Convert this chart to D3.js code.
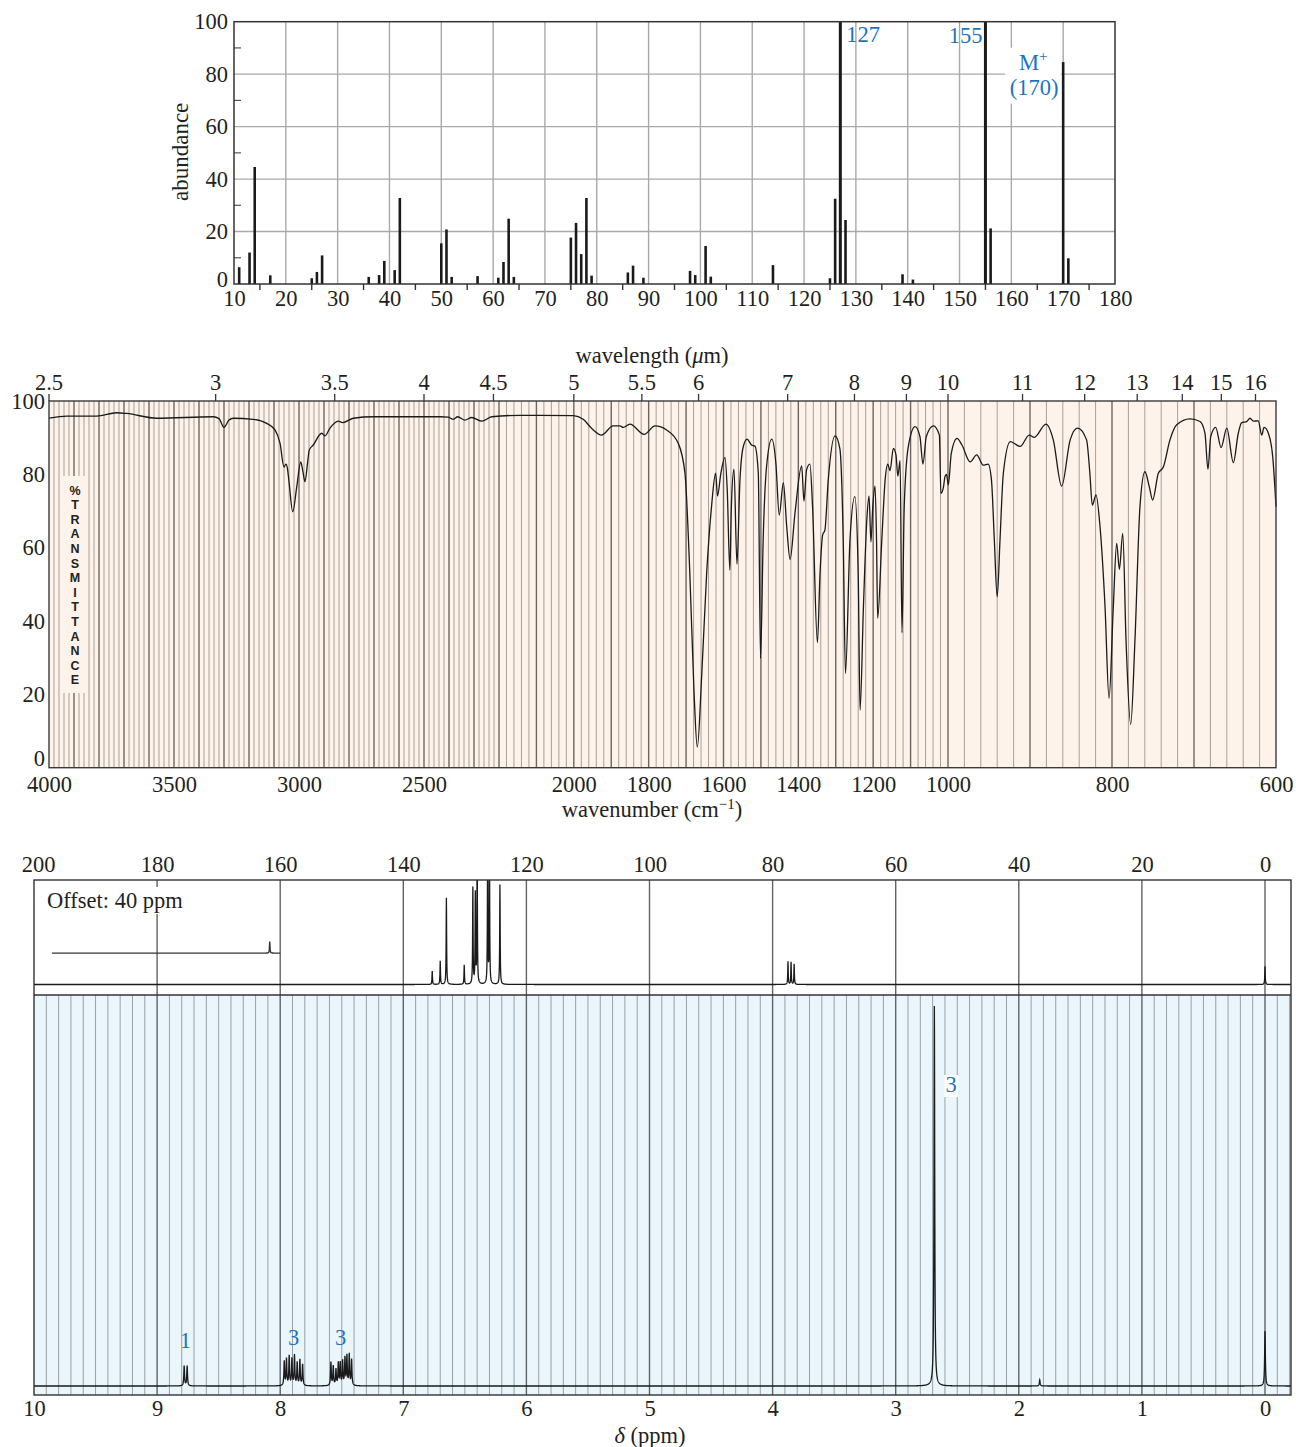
<!DOCTYPE html>
<html><head><meta charset="utf-8">
<script src="https://cdn.jsdelivr.net/npm/d3@7"></script>
<style>body{margin:0;background:#fff}svg{display:block}</style>
</head><body><svg id="c" width="1296" height="1447"></svg>
<script>
// ---------------- DATA ----------------
// Mass spectrum
const msMz = [11,13,14,17,25,26,27,36,38,39,41,42,50,51,52,57,61,62,63,64,75,76,77,78,79,86,87,89,98,99,101,102,114,125,126,127,128,139,141,155,156,170,171];
const msAbundance = [6.4,12,44.6,3.3,2.2,4.6,10.9,2.7,3.4,8.8,5.3,32.8,15.5,20.8,2.7,3,2.4,8.4,24.9,2.7,17.7,23.3,11.4,32.8,3.2,4.4,7,2.4,5,3.4,14.5,2.8,7.2,2.2,32.5,100,24.4,3.7,1.7,100,21.2,84.6,9.8];
const msXTicks = [10,20,30,40,50,60,70,80,90,100,110,120,130,140,150,160,170,180];
const msYTicks = [0,20,40,60,80,100];

// IR spectrum
const irWavenumber = [4000,3929,3809,3729,3689,3569,3343,3320,3300,3280,3263,3183,3129,3096,3076,3060,3052,3046,3040,3025,3009,2993,2985,2976,2966,2959,2943,2909,2896,2876,2843,2825,2783,2703,2436,2403,2383,2365,2336,2309,2269,2229,2144,2001,1975,1952,1926,1895,1877,1868,1850,1812,1783,1752,1721,1703,1690,1679,1670,1658,1645,1632,1621,1616,1607,1596,1590,1583,1579,1572,1564,1556,1547,1537,1525,1516,1507,1501,1494,1485,1471,1460,1451,1440,1431,1422,1409,1391,1385,1378,1369,1362,1349,1342,1335,1329,1320,1302,1289,1280,1274,1262,1249,1240,1235,1226,1217,1211,1206,1201,1195,1191,1188,1177,1168,1161,1155,1146,1139,1134,1128,1123,1117,1106,1088,1075,1067,1058,1039,1023,1019,1012,1008,1004,999.6,996,989,983,973,965,957,951,947,943.5,940,936.6,932.5,924,912,901,894.7,880.5,871.6,861.4,851,842,831,827,824,819.5,814.6,808.5,803.6,798.4,794.3,791,786.9,782.9,777.2,772,765.9,759.8,754.5,750.4,743.5,737.4,729.3,721.1,704.9,692.7,686.6,683,679.6,673.5,667,660,652,646,641.8,635.7,631.7,627.7,621.6,617.4,614.6,609.3,604,600];
const irTransmittance = [95.3,95.9,95.9,96.8,96.6,95.3,95.7,95.2,92.8,94.8,95.3,95.0,93.9,92.1,88.5,82,82.8,81.5,78,69.8,76.6,83.4,81,78,83,86.6,88,91.2,90.5,92.6,94.5,94.1,95.3,95.7,95.7,95.6,95.0,95.7,94.8,95.5,94.5,95.7,96.1,96.0,95.0,92.5,90.7,93.2,93.2,92.8,93.7,90.9,93.2,92.1,88.5,80.3,53,21.2,5.6,25.7,53,71.2,80.3,74.1,80.3,84.6,75.7,53.9,71.2,81.4,55.5,78.5,87.6,89.6,88,87.7,80.3,29.8,62.1,82,89.6,83,68.9,77.7,65.7,56.8,69.4,82.3,72.7,81.2,82.8,71.2,34.1,53,63.5,64.8,78.5,90.5,87,62.1,25.7,62.1,73.9,53,15.7,43.9,67.5,74.1,61.6,71.2,76.8,62.1,40.7,62,78.5,82.8,81,87.1,85.3,79.5,83.7,36.8,71.2,87.6,93,90.3,82.8,90.3,93.2,90.7,74.8,76.6,79.4,80,77.1,85.7,89.8,88,83.4,85.3,82.5,82.8,78.5,62.1,46.6,62,80.3,88.9,87.6,90.7,90.1,93.7,89.4,76.8,89.4,92.6,89.4,80.3,71.6,74.4,65.7,43.9,18.9,43.9,61.2,54.1,63.9,34.8,11.8,34.8,71.2,80.7,76.6,73,80.3,82,89.4,93.5,95.1,94.4,91.2,81.4,90.3,92.8,87.3,92.6,83.2,91.2,94.1,94.4,95.3,94.5,94.6,90.7,92.8,91.2,84.8,71.2];
const irWnTicks = [4000,3500,3000,2500,2000,1800,1600,1400,1200,1000,800,600];
const irWlTicks = [2.5,3,3.5,4,4.5,5,5.5,6,7,8,9,10,11,12,13,14,15,16];
const irYTicks = [0,20,40,60,80,100];
const irSideLabel = "%TRANSMITTANCE";

// 13C NMR (inset)
const c13Ppm = [135.3,134.0,133.0,130.1,128.7,128.3,128.0,126.3,126.0,124.3,77.5,77.0,76.5,0.0];
const c13Height = [12.8,22.4,83,18.5,92,86,130,130,130,95.5,22,21.5,19.5,17.5];
const c13OffsetPpm = [161.7];
const c13OffsetHeight = [11];
const c13OffsetLevel = 30;
const c13OffsetRange = [197.1, 160];
const c13Ticks = [200,180,160,140,120,100,80,60,40,20,0];

// 1H NMR
const h1Ppm = [8.780,8.756, 7.967,7.949,7.927,7.905,7.884,7.862,7.840,7.818, 7.588,7.569,7.547,7.528,7.512,7.493,7.474,7.458,7.439,7.420, 2.686, 1.83, 0.0];
const h1Height = [5.3,5.3, 6.4,7.0,7.7,7.0,7.9,6.0,6.8,5.6, 6.2,5.1,4.2,5.9,5.9,6.4,7.2,7.7,8.1,6.8, 100, 1.6, 14.5];
const h1Integrals = ["1","3","3","3"];
const h1IntegralPpm = [8.77, 7.89, 7.51, 2.55];
const h1Ticks = [10,9,8,7,6,5,4,3,2,1,0];

// ---------------- DRAW ----------------
const svg = d3.select("#c");
const SERIF = '"Liberation Serif","Times New Roman",serif';
const SANS = '"Liberation Sans",Arial,sans-serif';
const BLUE = "#1b74bd";
const INK = "#231f20";
const FS = 22.5;

function styleAxis(g, size){
  g.select(".domain").remove();
  g.selectAll("text").attr("font-family", SERIF).attr("font-size", size).attr("fill", INK);
}

// ===== Mass spectrum =====
const msX = d3.scaleLinear().domain([10,180]).range([234,1115]);
const msY = d3.scaleLinear().domain([0,100]).range([284,21.7]);
const ms = svg.append("g");
ms.selectAll(".vg").data(msXTicks.filter(d=>d>10&&d<180)).join("line")
  .attr("x1",d=>msX(d)).attr("x2",d=>msX(d)).attr("y1",msY(0)).attr("y2",msY(100))
  .attr("stroke","#a9a9a9").attr("stroke-width",1.4);
ms.selectAll(".hg").data(msYTicks.filter(d=>d>0&&d<100)).join("line")
  .attr("x1",msX(10)).attr("x2",msX(180)).attr("y1",d=>msY(d)).attr("y2",d=>msY(d))
  .attr("stroke","#a9a9a9").attr("stroke-width",1.4);
ms.selectAll(".ym").data([10,30,50,70,90]).join("line")
  .attr("x1",msX(10)).attr("x2",msX(10)+7).attr("y1",d=>msY(d)).attr("y2",d=>msY(d))
  .attr("stroke","#555").attr("stroke-width",1.2);
ms.selectAll(".xm").data(d3.range(15,180,10)).join("line")
  .attr("x1",d=>msX(d)).attr("x2",d=>msX(d)).attr("y1",msY(0)).attr("y2",msY(0)+6)
  .attr("stroke","#333").attr("stroke-width",1.4);
// M+ label box
ms.append("rect").attr("x",msX(170)-58).attr("y",msY(100)+26).attr("width",56).attr("height",56).attr("fill","#fff");
ms.selectAll(".bar").data(msMz.map((m,i)=>({m,a:msAbundance[i]}))).join("line")
  .attr("x1",d=>msX(d.m)).attr("x2",d=>msX(d.m)).attr("y1",msY(0)).attr("y2",d=>msY(d.a))
  .attr("stroke","#1a1a1a").attr("stroke-width",d=>d.a>=99?3:2.6);
ms.append("rect").attr("x",msX(10)).attr("y",msY(100)).attr("width",msX(180)-msX(10)).attr("height",msY(0)-msY(100))
  .attr("fill","none").attr("stroke","#333").attr("stroke-width",1.5);
ms.append("g").attr("transform",`translate(0,${msY(0)})`)
  .call(d3.axisBottom(msX).tickValues(msXTicks).tickSize(0).tickPadding(6)).call(g=>styleAxis(g,FS));
ms.append("g").attr("transform",`translate(${msX(10)},0)`)
  .call(d3.axisLeft(msY).tickValues(msYTicks).tickSize(0).tickPadding(6)).call(g=>styleAxis(g,FS))
  .call(g=>g.selectAll(".tick").filter(d=>d===0).select("text").attr("y",-5));
ms.append("text").attr("transform",`translate(188,${(msY(0)+msY(100))/2 - 1}) rotate(-90)`)
  .attr("text-anchor","middle").attr("font-family",SERIF).attr("font-size",FS+0.5).attr("fill",INK).text("abundance");
ms.append("text").attr("x",msX(127)+6).attr("y",msY(100)+20).attr("font-family",SERIF).attr("font-size",FS).attr("fill",BLUE).text("127");
ms.append("text").attr("x",msX(155)-3).attr("y",msY(100)+21.5).attr("text-anchor","end").attr("font-family",SERIF).attr("font-size",FS).attr("fill",BLUE).text("155");
const mp = ms.append("text").attr("x",msX(170)-30).attr("y",msY(100)+48).attr("text-anchor","middle").attr("font-family",SERIF).attr("font-size",FS).attr("fill",BLUE);
mp.append("tspan").text("M");
mp.append("tspan").attr("dy",-9).attr("font-size",15).text("+");
ms.append("text").attr("x",msX(170)-29).attr("y",msY(100)+73).attr("text-anchor","middle").attr("font-family",SERIF).attr("font-size",FS).attr("fill",BLUE).text("(170)");

// ===== IR spectrum =====
const irX = d3.scaleLinear().domain([4000,2200,1000,600]).range([49,499,948,1276]);
const irY = d3.scaleLinear().domain([0,100]).range([767.7,401]);
const ir = svg.append("g");
ir.append("rect").attr("x",irX(4000)).attr("y",irY(100)).attr("width",irX(600)-irX(4000)).attr("height",irY(0)-irY(100)).attr("fill","#fdf3ea");
const irGrid = d3.range(620,4000,20);
ir.selectAll(".g").data(irGrid).join("line")
  .attr("x1",d=>irX(d)).attr("x2",d=>irX(d)).attr("y1",irY(0)).attr("y2",irY(100))
  .attr("stroke",d=>d%100===0?"#6d6662":"#ab9f98").attr("stroke-width",d=>d%100===0?1.4:1);
// side label box
ir.append("rect").attr("x",63).attr("y",476).attr("width",24).attr("height",217).attr("fill","#fdf3ea");
ir.selectAll(".sl").data(irSideLabel.split("")).join("text")
  .attr("x",75).attr("y",(d,i)=>494.5+i*14.6).attr("text-anchor","middle")
  .attr("font-family",SANS).attr("font-weight","bold").attr("font-size",12.5).attr("fill","#222").text(d=>d);
// curve
const irLine = d3.line().x(d=>irX(d[0])).y(d=>irY(d[1])).curve(d3.curveMonotoneX);
ir.append("path").datum(irWavenumber.map((w,i)=>[w,irTransmittance[i]])).attr("d",irLine)
  .attr("fill","none").attr("stroke","#1a1a1a").attr("stroke-width",1.3);
ir.append("rect").attr("x",irX(4000)).attr("y",irY(100)).attr("width",irX(600)-irX(4000)).attr("height",irY(0)-irY(100))
  .attr("fill","none").attr("stroke","#3a3a3a").attr("stroke-width",1.4);
// top wavelength ticks
ir.selectAll(".wt").data(irWlTicks).join("line")
  .attr("x1",d=>irX(1e4/d)).attr("x2",d=>irX(1e4/d)).attr("y1",irY(100)).attr("y2",irY(100)-7)
  .attr("stroke","#333").attr("stroke-width",1.3);
ir.selectAll(".wl").data(irWlTicks).join("text")
  .attr("x",d=>irX(1e4/d)).attr("y",irY(100)-11).attr("text-anchor","middle")
  .attr("font-family",SERIF).attr("font-size",FS).attr("fill",INK).text(d=>d);
ir.append("g").attr("transform",`translate(0,${irY(0)})`)
  .call(d3.axisBottom(irX).tickValues(irWnTicks).tickSize(0).tickPadding(8).tickFormat(d3.format("d"))).call(g=>styleAxis(g,FS));
ir.append("g").attr("transform",`translate(${irX(4000)},0)`)
  .call(d3.axisLeft(irY).tickValues(irYTicks).tickSize(0).tickPadding(4)).call(g=>styleAxis(g,FS))
  .call(g=>g.selectAll(".tick").filter(d=>d===0).select("text").attr("y",-9));
const wlT = ir.append("text").attr("x",652).attr("y",363).attr("text-anchor","middle").attr("font-family",SERIF).attr("font-size",FS).attr("fill",INK);
wlT.append("tspan").text("wavelength (");
wlT.append("tspan").attr("font-style","italic").text("μ");
wlT.append("tspan").text("m)");
const wnT = ir.append("text").attr("x",652).attr("y",817).attr("text-anchor","middle").attr("font-family",SERIF).attr("font-size",FS).attr("fill",INK);
wnT.append("tspan").text("wavenumber (cm");
wnT.append("tspan").attr("dy",-8).attr("font-size",15).text("−1");
wnT.append("tspan").attr("dy",8).text(")");

// ===== NMR =====
const L=34, R=1291, TOP=880, MID=995, BOT=1395;
const cX = d3.scaleLinear().domain([200,0]).range([34,1265]);
const hX = d3.scaleLinear().domain([10,0]).range([34,1265]);
const cY = d3.scaleLinear().domain([0,100]).range([984.5,880]);
const hY = d3.scaleLinear().domain([0,100]).range([1386,1006]);
const nmr = svg.append("g");
const defs = svg.append("defs");
defs.append("clipPath").attr("id","cclip").append("rect").attr("x",L).attr("y",TOP).attr("width",R-L).attr("height",MID-TOP);
defs.append("clipPath").attr("id","hclip").append("rect").attr("x",L).attr("y",MID).attr("width",R-L).attr("height",BOT-MID);
nmr.append("rect").attr("x",L).attr("y",TOP).attr("width",R-L).attr("height",MID-TOP).attr("fill","#fff");
nmr.append("rect").attr("x",L).attr("y",MID).attr("width",R-L).attr("height",BOT-MID).attr("fill","#eaf5fc");
const hGrid = d3.range(-2,100,1).map(v=>v/10);
nmr.selectAll(".hg").data(hGrid.filter(v=>Math.abs(v-Math.round(v))>1e-6)).join("line")
  .attr("x1",d=>hX(d)).attr("x2",d=>hX(d)).attr("y1",MID).attr("y2",BOT)
  .attr("stroke","#98a1a7").attr("stroke-width",1);
nmr.selectAll(".hm").data([9,8,7,6,5,4,3,2,1,0]).join("line")
  .attr("x1",d=>hX(d)).attr("x2",d=>hX(d)).attr("y1",TOP).attr("y2",BOT)
  .attr("stroke","#5f6366").attr("stroke-width",1.4);

function lorentzSum(centers, heights, w, from, to, step, base){
  const pts = d3.range(from, to, -step).concat(centers.filter(c=>c<=from&&c>=to), [to]);
  pts.sort((a,b)=>b-a);
  return pts.map(p=>[p, base + d3.sum(centers,(c,i)=>heights[i]/(1+((p-c)/w)**2))]);
}
// 13C offset trace
const offData = lorentzSum(c13OffsetPpm, c13OffsetHeight, 0.05, c13OffsetRange[0], c13OffsetRange[1], 0.02, c13OffsetLevel);
const cLine = d3.line().x(d=>cX(d[0])).y(d=>cY(d[1]));
nmr.append("path").datum(offData).attr("d",cLine).attr("fill","none").attr("stroke","#333").attr("stroke-width",1.4);
// 13C main trace
const cData = lorentzSum(c13Ppm, c13Height, 0.045, 200, cX.invert(R), 0.02, 0);
nmr.append("path").datum(cData).attr("d",cLine).attr("clip-path","url(#cclip)")
  .attr("fill","none").attr("stroke","#1a1a1a").attr("stroke-width",1.3);
// Offset label
nmr.append("rect").attr("x",44).attr("y",887).attr("width",145).attr("height",27).attr("fill","#fff");
nmr.append("text").attr("x",47).attr("y",908).attr("font-family",SERIF).attr("font-size",FS).attr("fill",INK).text("Offset: 40 ppm");
// 1H trace
const hLine = d3.line().x(d=>hX(d[0])).y(d=>hY(d[1]));
const hData = lorentzSum(h1Ppm, h1Height, 0.0035, 10, hX.invert(R), 0.001, 0);
nmr.append("path").datum(hData).attr("d",hLine).attr("clip-path","url(#hclip)")
  .attr("fill","none").attr("stroke","#1a1a1a").attr("stroke-width",1.3);
// separators and frame
nmr.append("line").attr("x1",L).attr("x2",R).attr("y1",MID).attr("y2",MID).attr("stroke","#333").attr("stroke-width",1.4);
nmr.append("rect").attr("x",L).attr("y",TOP).attr("width",R-L).attr("height",BOT-TOP).attr("fill","none").attr("stroke","#333").attr("stroke-width",1.4);
// integrals
const intY = [1348,1345,1345,1092];
h1Integrals.forEach((t,i)=>{
  const x = hX(h1IntegralPpm[i]);
  if(i===3) nmr.append("rect").attr("x",x-7).attr("y",intY[i]-17).attr("width",14).attr("height",22).attr("fill","#fff");
  nmr.append("text").attr("x",x).attr("y",intY[i]).attr("text-anchor","middle").attr("font-family",SERIF).attr("font-size",FS).attr("fill",BLUE).text(t);
});
// axes
nmr.append("g").attr("transform",`translate(0,${TOP})`)
  .call(d3.axisTop(cX).tickValues(c13Ticks).tickSize(0).tickPadding(8)).call(g=>styleAxis(g,FS))
  .call(g=>g.selectAll(".tick").filter(d=>d===200).select("text").attr("x",4));
nmr.append("g").attr("transform",`translate(0,${BOT})`)
  .call(d3.axisBottom(hX).tickValues(h1Ticks).tickSize(0).tickPadding(5)).call(g=>styleAxis(g,FS));
const dT = nmr.append("text").attr("x",650).attr("y",1443).attr("text-anchor","middle").attr("font-family",SERIF).attr("font-size",FS).attr("fill",INK);
dT.append("tspan").attr("font-style","italic").text("δ");
dT.append("tspan").text(" (ppm)");
</script></body></html>
